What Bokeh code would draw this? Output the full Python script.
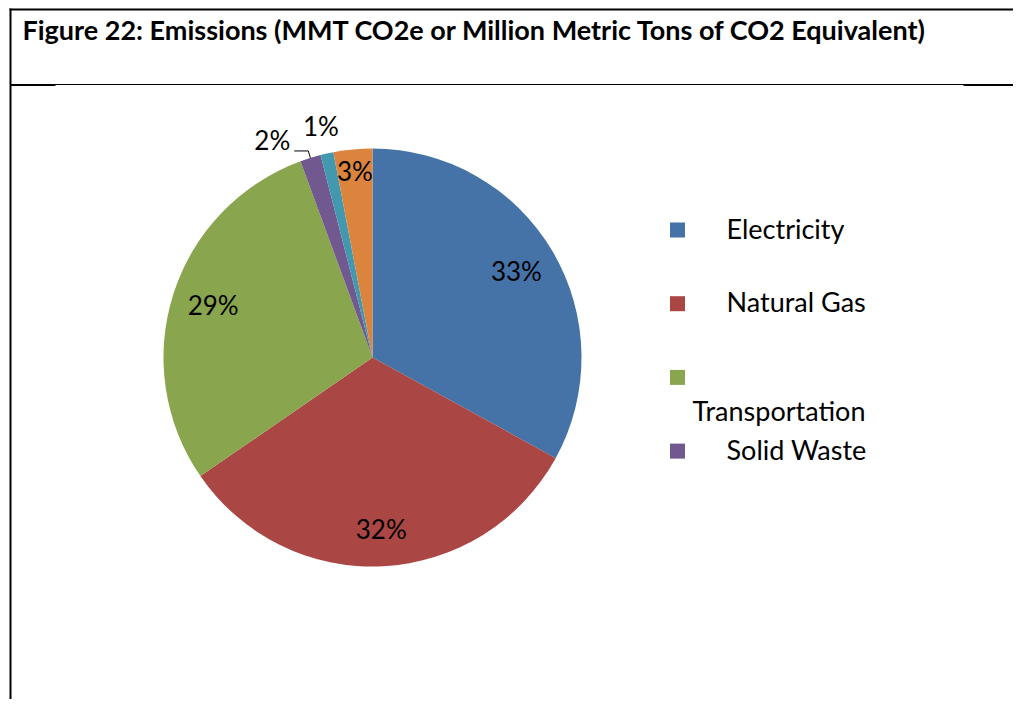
import math
from bokeh.plotting import figure
from bokeh.models import ColumnDataSource, Range1d
from bokeh.core.properties import value
from bokeh.embed import file_html
from bokeh.resources import INLINE

# ---- data ----
categories = ["Electricity", "Natural Gas", "Transportation", "Solid Waste", "Water", "Other"]
values = [33.0, 32.4, 29.0, 1.6, 1.0, 3.0]
colors = ["#4572A7", "#AA4643", "#89A54E", "#71588F", "#4198AF", "#DB843D"]
legend_items = categories[:4]
title_text = "Figure 22: Emissions (MMT CO2e or Million Metric Tons of CO2 Equivalent)"

W, H = 1013, 699
FONT = "Lato"


def sx(X):
    return X


def sy(Y):
    return H - Y


p = figure(width=W, height=H, x_range=Range1d(0, W), y_range=Range1d(0, H),
           output_backend="svg", toolbar_location=None, min_border=0,
           x_axis_type=None, y_axis_type=None)
p.grid.visible = False
p.outline_line_color = None
p.background_fill_color = "white"
p.border_fill_color = "white"

# ---- frame lines ----
p.segment(x0=[sx(10)], y0=[sy(8)], x1=[sx(10)], y1=[sy(710)], line_color="black", line_width=2)
p.segment(x0=[sx(9)], y0=[sy(9)], x1=[sx(1021)], y1=[sy(9)], line_color="black", line_width=2)
p.segment(x0=[sx(10)], y0=[sy(84)], x1=[sx(1021)], y1=[sy(84)], line_color="black", line_width=1.2)
p.segment(x0=[sx(10), sx(963)], y0=[sy(84.5), sy(84.5)], x1=[sx(55), sx(1021)], y1=[sy(84.5), sy(84.5)],
          line_color="black", line_width=2)

# ---- title ----
p.text(x=[sx(22)], y=[sy(29)], text=[title_text], text_font=value(FONT), text_font_style="bold",
       text_font_size="27px", text_baseline="middle", text_align="left", text_color="black")

# ---- pie ----
cx, cy, R = sx(372), sy(357), 209
total = sum(values)
starts, ends, mids = [], [], []
cum = 0.0
for v in values:
    a0 = math.pi / 2 - cum / total * 2 * math.pi
    cum += v
    a1 = math.pi / 2 - cum / total * 2 * math.pi
    starts.append(a0)
    ends.append(a1)
    mids.append((a0 + a1) / 2)

src = ColumnDataSource(dict(start=starts, end=ends, color=colors, name=categories))
p.wedge(x=cx, y=cy, radius=R, start_angle="start", end_angle="end", direction="clock",
        fill_color="color", line_color=None, source=src)

# ---- percentage labels ----
pct = [f"{round(v / total * 100)}%" for v in values]
rfac = [0.80, 0.83, 0.80, None, 1.13, 0.89]
lx, ly, lt = [], [], []
for i, t in enumerate(pct):
    if rfac[i] is None:
        continue
    lx.append(cx + rfac[i] * R * math.cos(mids[i]))
    ly.append(cy + rfac[i] * R * math.sin(mids[i]) + 1.5)
    lt.append(t)
p.text(x=lx, y=ly, text=lt, text_font=value(FONT), text_font_size="26px",
       text_align="center", text_baseline="middle", text_color="black")

# leader line label (Solid Waste)
th = mids[3]
ax_, ay_ = cx + R * math.cos(th), cy + R * math.sin(th)
bx_, by_ = cx + 1.035 * R * math.cos(th), cy + 1.035 * R * math.sin(th)
c_x, c_y = bx_ - 14, by_
p.line(x=[ax_, bx_, c_x], y=[ay_, by_, c_y], line_color="black", line_width=1)
p.text(x=[c_x - 4], y=[c_y + 11], text=[pct[3]], text_font=value(FONT), text_font_size="26px",
       text_align="right", text_baseline="middle", text_color="black")

# ---- legend ----
step = 73.7
sq_y = [sy(229.5 + i * step) for i in range(len(legend_items))]
p.scatter(x=[sx(677)] * len(legend_items), y=sq_y, marker="square", size=15,
          fill_color=colors[:len(legend_items)], line_color=None)
tx, ty = [], []
for i, lab in enumerate(legend_items):
    if len(lab) > 12:
        tx.append(sx(692))
        ty.append(sy(229.5 + i * step + 35) + 2)
    else:
        tx.append(sx(726))
        ty.append(sy(229.5 + i * step) + 2)
p.text(x=tx, y=ty, text=legend_items, text_font=value(FONT), text_font_size="27px",
       text_align="left", text_baseline="middle", text_color="black")

open("out.html", "w").write(file_html(p, INLINE))
